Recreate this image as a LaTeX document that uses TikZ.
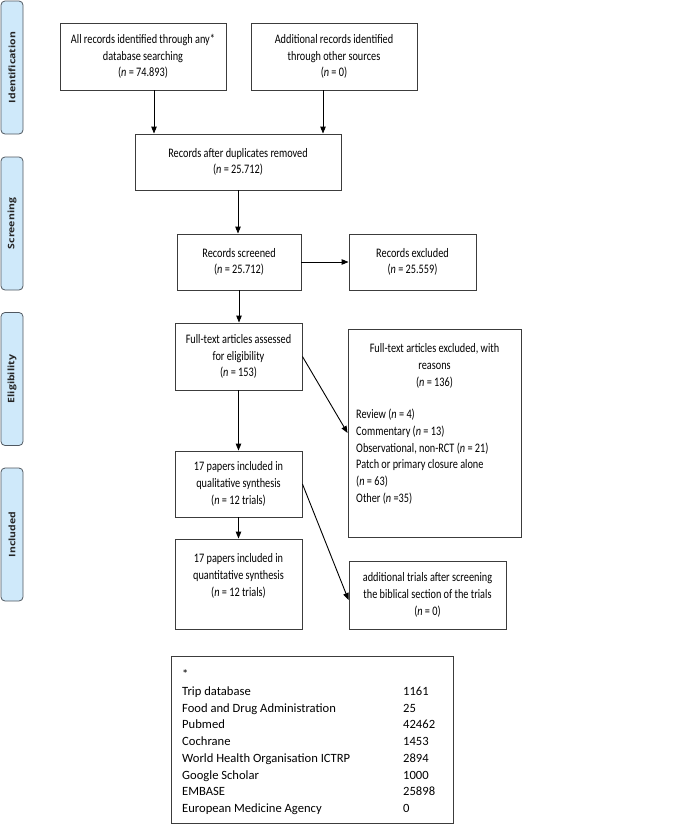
\documentclass[tikz,border=0pt]{standalone}
\usepackage{fontspec}
\setmainfont{Carlito}[FakeStretch=0.79]
\newfontfamily\tabfont{Carlito}
\newfontfamily\sidefont{Open Sans}
\usetikzlibrary{arrows.meta,calc}
\definecolor{boxgray}{HTML}{3C3C3C}
\definecolor{tabblue}{HTML}{CFE9FA}
\definecolor{tabborder}{HTML}{505860}
\begin{document}
\begin{tikzpicture}[x=1pt,y=-1pt,
  box/.style={draw=boxgray, line width=0.9pt, fill=white, inner sep=0pt, align=center,
    font=\fontsize{13}{16.7}\selectfont},
  txt/.style={inner sep=0pt, font=\fontsize{13}{16.7}\selectfont},
  tab/.style={draw=tabborder, fill=tabblue, rounded corners=4pt, line width=0.8pt,
    minimum width=22pt, minimum height=133pt, inner sep=0pt},
  tabtxt/.style={rotate=90, inner sep=0pt, text=black!85, font=\sidefont\bfseries\fontsize{10.5}{12}\selectfont},
  arr/.style={-{Triangle[length=7pt,width=5.5pt]}, line width=0.9pt, draw=black}]
\useasboundingbox (0,0) rectangle (685,825);

% side tabs
\node[tab] (t1) at (12,67.5) {};
\node[tabtxt] (t1l) at (t1.center) {\scalebox{1}[0.85]{Identification}};
\node[tab] (t2) at (12,223.5) {};
\node[tabtxt] (t2l) at (t2.center) {\scalebox{1}[0.85]{Screening}};
\node[tab] (t3) at (12,379) {};
\node[tabtxt] (t3l) at (t3.center) {\scalebox{1}[0.85]{Eligibility}};
\node[tab] (t4) at (12,534.5) {};
\node[tabtxt] (t4l) at (t4.center) {\scalebox{1}[0.85]{Included}};

% boxes
\node[box, minimum width=166pt, minimum height=67pt] (id1) at (143,56.5)
  {All records identified through any*\\database searching\\(\textit{n} = 74.893)};
\node[box, minimum width=166pt, minimum height=67pt] (id2) at (334,56.5)
  {Additional records identified\\through other sources\\(\textit{n} = 0)};
\node[box, minimum width=206pt, minimum height=56pt] (dup) at (238,162)
  {Records after duplicates removed\\(\textit{n} = 25.712)};
\node[box, minimum width=124pt, minimum height=56pt] (scr) at (239,262)
  {Records screened\\(\textit{n} = 25.712)};
\node[box, minimum width=127pt, minimum height=56pt] (exc) at (412.5,262)
  {Records excluded\\(\textit{n} = 25.559)};
\node[box, minimum width=127pt, minimum height=67pt] (full) at (238.5,356.5)
  {Full-text articles assessed\\for eligibility\\(\textit{n} = 153)};
\node[box, minimum width=173pt, minimum height=208pt] (ftex) at (434.5,433) {};
\node[txt, align=center] (ftext) at (434.5,366)
  {Full-text articles excluded, with\\reasons\\(\textit{n} = 136)};
\node[txt, align=left, anchor=north west] (ftlist) at (356,409)
  {Review (\textit{n} = 4)\\Commentary (\textit{n} = 13)\\Observational, non-RCT (\textit{n} = 21)\\Patch or primary closure alone\\(\textit{n} = 63)\\Other (\textit{n} =35)};
\node[box, minimum width=127pt, minimum height=66pt] (qual) at (238.5,484)
  {17 papers included in\\qualitative synthesis\\(\textit{n} = 12 trials)};
\node[box, minimum width=127pt, minimum height=90pt] (quant) at (238.5,584) {};
\node[txt, align=center] (quantt) at (238.5,576)
  {17 papers included in\\quantitative synthesis\\(\textit{n} = 12 trials)};
\node[box, minimum width=157pt, minimum height=68pt] (addt) at (427.5,595)
  {additional trials after screening\\the biblical section of the trials\\(\textit{n} = 0)};

% table
\node[box, minimum width=282pt, minimum height=167pt] (tbl) at (312,739.5) {};
\node[inner sep=0pt, anchor=north west, font=\tabfont\fontsize{12.6}{16.7}\selectfont] (tblt) at (182,667)
  {\begin{tabular}{@{}p{221pt}@{}l@{}}
  * & \\
  Trip database & 1161\\
  Food and Drug Administration & 25\\
  Pubmed & 42462\\
  Cochrane & 1453\\
  World Health Organisation ICTRP & 2894\\
  Google Scholar & 1000\\
  EMBASE & 25898\\
  European Medicine Agency & 0
  \end{tabular}};

% arrows
\draw[arr] ([xshift=11pt]id1.south) -- ([xshift=11pt]id1.south |- dup.north);
\draw[arr] ([xshift=-11pt]id2.south) -- ([xshift=-11pt]id2.south |- dup.north);
\draw[arr] (dup.south) -- (dup.south |- scr.north);
\draw[arr] (scr.east) -- (exc.west);
\draw[arr] (scr.south) -- (scr.south |- full.north);
\draw[arr] (full.south) -- (qual.north);
\draw[arr] (qual.south) -- (quant.north);
\draw[arr] (full.east) -- (ftex.west);
\draw[arr] (qual.east) -- ([yshift=-5pt]addt.west);
\end{tikzpicture}
\end{document}
